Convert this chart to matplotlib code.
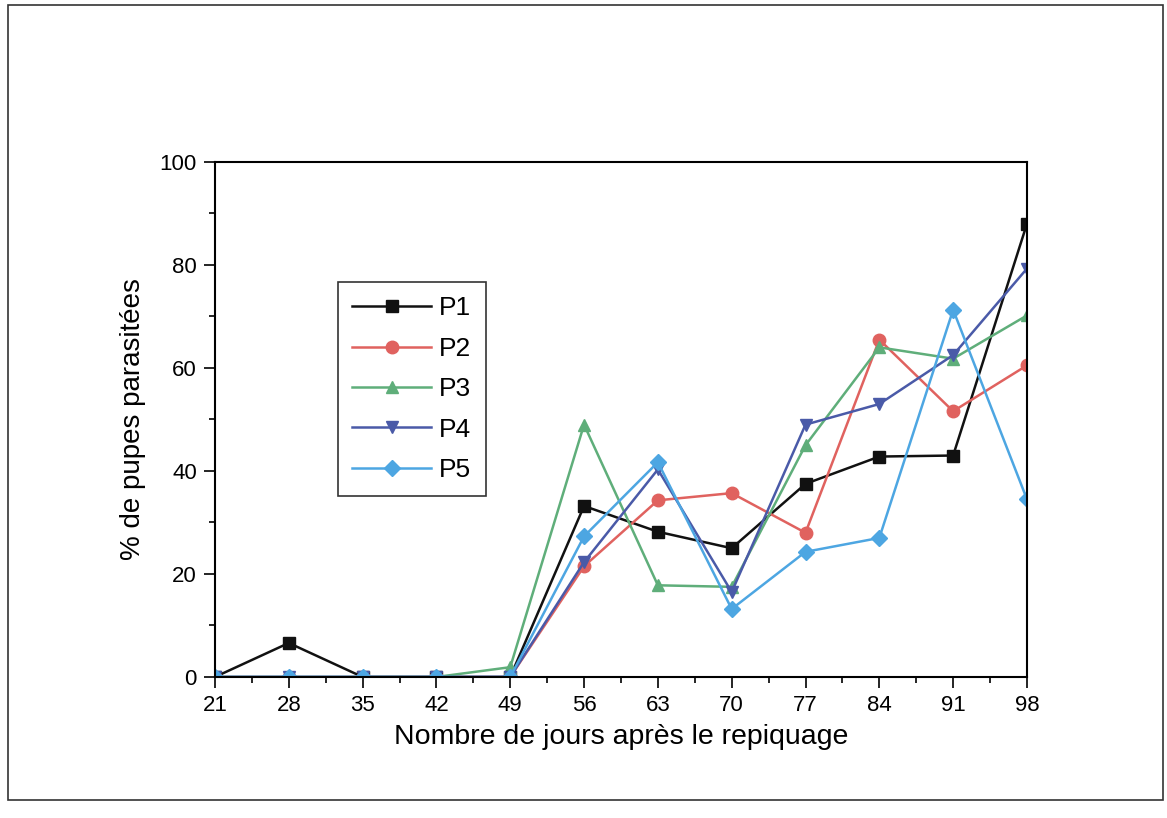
import matplotlib.pyplot as plt
from matplotlib.patches import Rectangle
from matplotlib.ticker import MultipleLocator

plt.rcParams['font.family'] = ['Liberation Sans', 'DejaVu Sans']

# jours apres repiquage
jours = [21, 28, 35, 42, 49, 56, 63, 70, 77, 84, 91, 98]

# % de pupes parasitees
p1 = [0, 6.6, 0, 0, 0, 33.2, 28.2, 25.0, 37.5, 42.8, 43.0, 88.0]
p2 = [0, 0, 0, 0, 0, 21.5, 34.3, 35.7, 28.0, 65.5, 51.6, 60.5]
p3 = [0, 0, 0, 0, 1.9, 49.0, 17.8, 17.5, 45.0, 64.0, 61.8, 70.2]
p4 = [0, 0, 0, 0, 0, 22.3, 40.3, 16.5, 49.0, 53.0, 62.5, 79.3]
p5 = [0, 0, 0, 0, 0, 27.3, 41.7, 13.2, 24.3, 27.0, 71.3, 34.5]

noms = ['P1', 'P2', 'P3', 'P4', 'P5']
couleurs = ['#111111', '#e0625f', '#5fae7a', '#4a5aa8', '#4da6e2']
marqueurs = ['s', 'o', '^', 'v', 'D']
tailles = [8, 9, 9, 9, 8]

fig = plt.figure(figsize=(11.67, 8.18), dpi=100)
ax = fig.add_axes([0.1842, 0.1724, 0.6958, 0.6296])

for y, nom, c, m, t in zip([p1, p2, p3, p4, p5], noms, couleurs, marqueurs, tailles):
    ax.plot(jours, y, color=c, marker=m, markersize=t, linewidth=1.8, label=nom)

ax.set_xlim(21, 98)
ax.set_ylim(0, 100)
ax.set_xticks(jours)
ax.xaxis.set_minor_locator(MultipleLocator(3.5))
ax.yaxis.set_major_locator(MultipleLocator(20))
ax.yaxis.set_minor_locator(MultipleLocator(10))
ax.tick_params(which='major', length=8, width=1.2, labelsize=16, direction='out', pad=5)
ax.tick_params(which='minor', length=4, width=1.2, direction='out')
for s in ax.spines.values():
    s.set_linewidth(1.5)

ax.set_xlabel('Nombre de jours après le repiquage', fontsize=20.5, labelpad=6)
ax.set_ylabel('% de pupes parasitées', fontsize=20, labelpad=10)

leg = ax.legend(loc='upper left', bbox_to_anchor=(0.151, 0.767), fontsize=19,
                handlelength=3.0, handletextpad=0.3, labelspacing=0.62,
                frameon=True, fancybox=False, borderpad=0.55, borderaxespad=0)
leg.get_frame().set_edgecolor('black')
leg.get_frame().set_linewidth(1.2)

# cadre exterieur
fig.patches.append(Rectangle((0.007, 0.022), 0.99, 0.972, transform=fig.transFigure,
                             fill=False, edgecolor='#333333', linewidth=1.2))

fig.savefig('out.png', dpi=100)
